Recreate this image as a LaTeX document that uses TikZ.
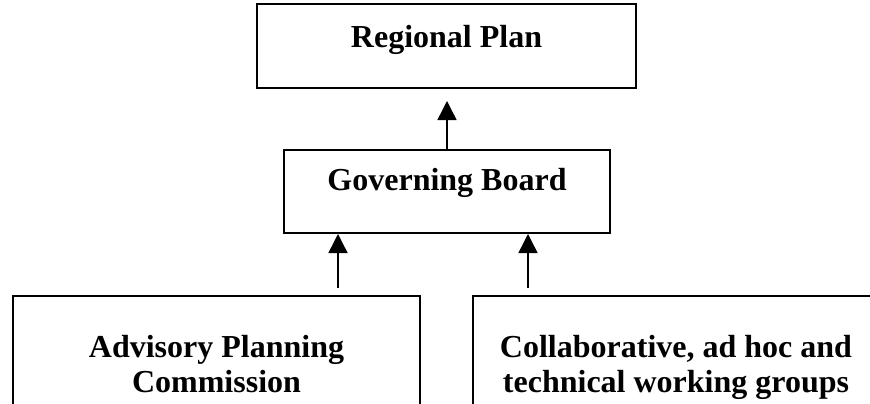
\documentclass[tikz,border=0pt]{standalone}
\usepackage{fontspec}
\setmainfont{Liberation Serif}
\usetikzlibrary{arrows.meta}
\begin{document}
\begin{tikzpicture}[x=1pt,y=-1pt,
  box/.style={draw=black,line width=2pt,rectangle,inner sep=0pt},
  lbl/.style={font=\fontsize{32}{35}\selectfont\bfseries,align=center,inner sep=0pt,anchor=base},
  arr/.style={line width=1.4pt,-{Triangle[length=19pt,width=19pt]}}]
\useasboundingbox (0,0) rectangle (870,404);
\clip (0,0) rectangle (870,404);
% boxes
\node[box,minimum width=379pt,minimum height=84pt] (rp) at (446.5,46) {};
\node[box,minimum width=326pt,minimum height=83pt] (gb) at (447,191.5) {};
\node[box,minimum width=407pt,minimum height=124pt] (apc) at (216.5,358) {};
\node[box,minimum width=406pt,minimum height=124pt] (wg) at (676,358) {};
% labels (base anchor sits on the last line's baseline)
\node[lbl] (rpt) at (446.5,48) {Regional Plan};
\node[lbl] (gbt) at (447,190) {Governing Board};
\node[lbl] (apct) at (216.5,392) {Advisory Planning\\Commission};
\node[lbl] (wgt) at (676,392) {Collaborative, ad hoc and\\technical working groups};
% connectors
\coordinate (a1) at (338,296);
\coordinate (a2) at (528,296);
\draw[arr,shorten >=12pt] (gb.north) -- (gb.north |- rp.south);
\draw[arr,shorten <=8pt] (a1) -- (a1 |- gb.south);
\draw[arr,shorten <=8pt] (a2) -- (a2 |- gb.south);
\end{tikzpicture}
\end{document}
